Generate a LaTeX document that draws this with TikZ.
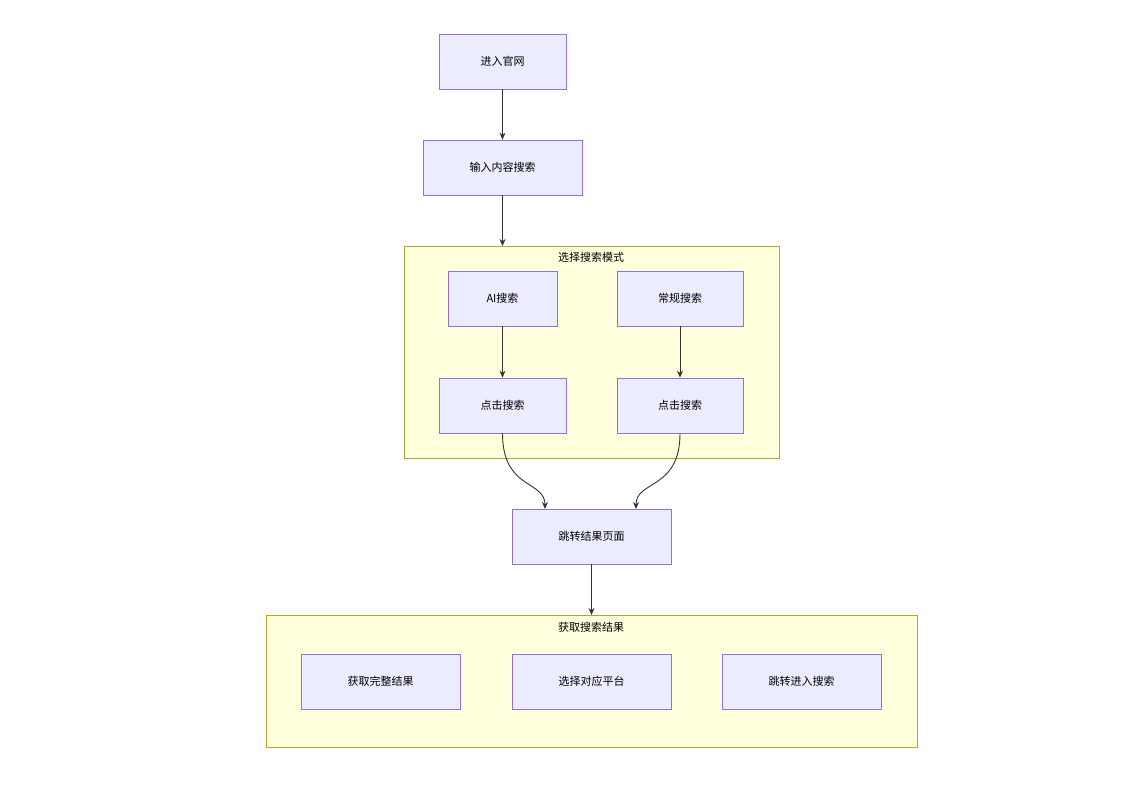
\documentclass[tikz,border=0pt]{standalone}
\usepackage{fontspec}
\setmainfont{Noto Sans CJK SC}
\usetikzlibrary{arrows.meta}
\definecolor{boxfill}{HTML}{ECECFF}
\definecolor{boxline}{HTML}{9370DB}
\definecolor{grpfill}{HTML}{FFFFDE}
\definecolor{grpline}{HTML}{AAAA33}
\definecolor{edge}{HTML}{333333}
\begin{document}
\begin{tikzpicture}[x=1pt,y=-1pt,
        font=\fontsize{11}{13}\selectfont,
        box/.style={draw=boxline,fill=boxfill,line width=0.8pt,minimum height=55pt,inner sep=0pt},
        grp/.style={draw=grpline,fill=grpfill,line width=0.8pt},
        arr/.style={draw=edge,line width=0.9pt,-{Stealth[length=7pt,width=6pt]}}]
    \useasboundingbox (0,0) rectangle (1135,787);

    % groups
    \draw[grp] (404,246) rectangle (779,458);
    \node (g1) at (591,257) {选择搜索模式};
    \coordinate (g1top) at (502.5,246);
    \draw[grp] (266,615) rectangle (917,747);
    \node (g2) at (591,627) {获取搜索结果};
    \coordinate (g2top) at (591.5,615);

    % nodes
    \node[box,minimum width=127pt] (enter) at (502.5,61.5) {进入官网};
    \node[box,minimum width=159pt] (input) at (502.5,167.5) {输入内容搜索};
    \node[box,minimum width=109pt] (ai) at (502.5,298.5) {AI搜索};
    \node[box,minimum width=126pt] (normal) at (680,298.5) {常规搜索};
    \node[box,minimum width=127pt] (clicka) at (502.5,405.5) {点击搜索};
    \node[box,minimum width=126pt] (clickb) at (680,405.5) {点击搜索};
    \node[box,minimum width=159pt] (jump) at (591.5,536.5) {跳转结果页面};
    \node[box,minimum width=159pt] (full) at (380.5,681.5) {获取完整结果};
    \node[box,minimum width=159pt] (platform) at (591.5,681.5) {选择对应平台};
    \node[box,minimum width=159pt] (goto) at (801.5,681.5) {跳转进入搜索};

    % edges
    \draw[arr] (enter) -- (input);
    \draw[arr] (input) -- (g1top);
    \draw[arr] (ai) -- (clicka);
    \draw[arr] (normal) -- (clickb);
    \draw[arr] (clicka.south) .. controls (502.5,490) and (545,480) .. (545,509);
    \draw[arr] (clickb.south) .. controls (680,490) and (636,480) .. (636,509);
    \draw[arr] (jump) -- (g2top);
\end{tikzpicture}
\end{document}
